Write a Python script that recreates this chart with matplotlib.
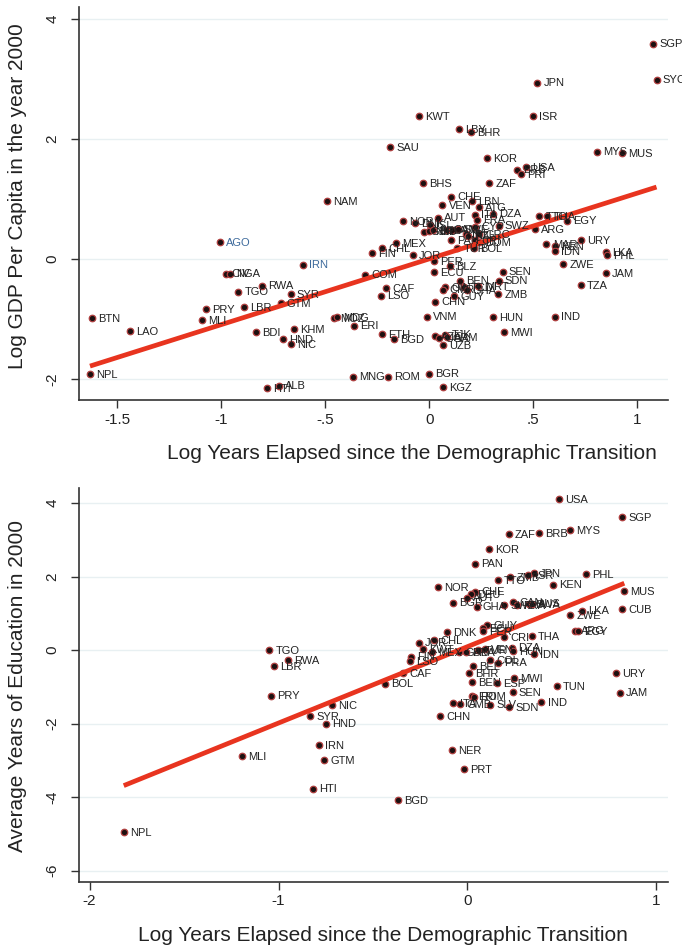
import numpy as np
import matplotlib
matplotlib.use("Agg")
import matplotlib.pyplot as plt

plt.rcParams['font.family'] = ['Liberation Sans', 'DejaVu Sans']

# --- top panel: log GDP per capita vs log years since transition ---
gdp_codes = ["SGP", "SYC", "JPN", "KWT", "ISR", "LBY", "BHR", "SAU", "MYS", "MUS",
             "KOR", "USA", "BRB", "PRI", "BHS", "ZAF", "CHE", "LBN", "VEN", "ATG",
             "AUT", "ITA", "FRA", "DZA", "NOR", "DNK", "ISL", "GBR", "NLD", "BEL",
             "CAN", "AUS", "SWE", "IRL", "NZL", "CYP", "GRC", "SWZ", "ARG", "TTO",
             "THA", "EGY", "URY", "MAR", "KEN", "IDN", "LKA", "PHL", "ZWE", "JAM",
             "TZA", "SEN", "SDN", "ZMB", "MRT", "BEN", "GIN", "CMR", "TCD", "GHA",
             "GUY", "CHN", "ECU", "BLZ", "PER", "PAN", "TUR", "BOL", "CRI", "DOM",
             "JOR", "MEX", "CHL", "FIN", "VNM", "HUN", "IND", "MWI", "ETH", "BGD",
             "AZE", "UGA", "TJK", "ARM", "UZB", "BGR", "KGZ", "ROM", "MNG", "NAM",
             "AGO", "IRN", "CIV", "NGA", "RWA", "TGO", "SYR", "PRY", "LBR", "GTM",
             "BTN", "MLI", "LAO", "BDI", "KHM", "HND", "NIC", "NPL", "ALB", "HTI",
             "MOZ", "MDG", "ERI", "COM", "CAF", "LSO"]
gdp_x = [1.076, 1.092, 0.518, -0.050, 0.499, 0.140, 0.200, -0.190, 0.804, 0.927,
         0.276, 0.464, 0.421, 0.440, -0.033, 0.288, 0.105, 0.204, 0.062, 0.238,
         0.039, 0.219, 0.230, 0.307, -0.129, -0.070, 0.001, -0.025, -0.001, 0.018,
         0.086, 0.111, 0.136, 0.174, 0.184, 0.219, 0.238, 0.333, 0.507, 0.528,
         0.566, 0.663, 0.727, 0.563, 0.602, 0.602, 0.849, 0.852, 0.643, 0.847,
         0.727, 0.352, 0.333, 0.331, 0.236, 0.147, 0.075, 0.067, 0.168, 0.179,
         0.119, 0.026, 0.022, 0.099, 0.022, 0.105, 0.134, 0.214, 0.219, 0.238,
         -0.081, -0.163, -0.227, -0.275, -0.013, 0.307, 0.603, 0.360, -0.227, -0.169,
         0.026, 0.047, 0.075, 0.086, 0.067, -0.002, 0.067, -0.201, -0.366, -0.494,
         -1.007, -0.610, -0.980, -0.959, -0.805, -0.919, -0.667, -1.075, -0.893, -0.715,
         -1.621, -1.092, -1.440, -0.836, -0.650, -0.703, -0.666, -1.632, -0.725, -0.780,
         -0.459, -0.446, -0.363, -0.309, -0.209, -0.233]
gdp_y = [3.59, 2.99, 2.94, 2.38, 2.38, 2.17, 2.12, 1.86, 1.79, 1.77,
         1.68, 1.53, 1.49, 1.42, 1.26, 1.27, 1.04, 0.97, 0.90, 0.86,
         0.69, 0.74, 0.655, 0.755, 0.63, 0.60, 0.57, 0.455, 0.46, 0.48,
         0.49, 0.48, 0.50, 0.41, 0.39, 0.54, 0.42, 0.555, 0.50, 0.71,
         0.71, 0.64, 0.32, 0.25, 0.21, 0.13, 0.12, 0.07, -0.08, -0.23,
         -0.43, -0.21, -0.36, -0.58, -0.45, -0.36, -0.47, -0.51, -0.47, -0.52,
         -0.62, -0.71, -0.22, -0.12, -0.04, 0.31, 0.18, 0.18, 0.32, 0.28,
         0.06, 0.27, 0.18, 0.10, -0.96, -0.97, -0.96, -1.22, -1.25, -1.33,
         -1.29, -1.32, -1.26, -1.30, -1.44, -1.91, -2.14, -1.96, -1.96, 0.97,
         0.28, -0.095, -0.245, -0.245, -0.445, -0.545, -0.59, -0.83, -0.80, -0.73,
         -0.99, -1.02, -1.20, -1.22, -1.17, -1.33, -1.42, -1.92, -2.11, -2.15,
         -0.98, -0.97, -1.11, -0.26, -0.48, -0.61]

# fitted line (slope, intercept)
gdp_fit = (1.0955, 0.003)

# --- bottom panel: average years of education ---
edu_codes = ["USA", "SGP", "ZAF", "BRB", "MYS", "KOR", "PAN", "PHL", "JPN", "ISR",
             "ZMB", "TTO", "KEN", "NOR", "CHE", "DEU", "AUT", "BGR", "GHA", "SWZ",
             "CAN", "FRA", "BWA", "AUS", "MUS", "CUB", "LKA", "ZWE", "ARG", "EGY",
             "GUY", "ECU", "PER", "CRI", "THA", "DNK", "CHL", "JOR", "KWT", "MEX",
             "FIN", "LSO", "VEN", "TUR", "BRA", "GAB", "DZA", "HUN", "IDN", "BEL",
             "COL", "PRA", "CAF", "BOL", "BHR", "BEN", "ESP", "MWI", "TUN", "URY",
             "JAM", "SEN", "IND", "SDN", "SLV", "ERI", "ROM", "ITA", "GMB", "CHN",
             "NER", "PRT", "BGD", "PRY", "NIC", "SYR", "HND", "IRN", "MLI", "GTM",
             "HTI", "NPL", "TGO", "RWA", "LBR"]
edu_x = [0.482, 0.817, 0.218, 0.378, 0.544, 0.114, 0.041, 0.625, 0.352, 0.322,
         0.225, 0.161, 0.454, -0.154, 0.038, 0.019, -0.004, -0.077, 0.049, 0.193,
         0.242, 0.260, 0.327, 0.341, 0.830, 0.817, 0.604, 0.542, 0.569, 0.586,
         0.103, 0.080, 0.080, 0.193, 0.341, -0.108, -0.177, -0.258, -0.234, -0.190,
         -0.299, -0.304, 0.091, 0.057, -0.008, -0.043, 0.234, 0.242, 0.352, 0.027,
         0.119, 0.163, -0.340, -0.437, 0.008, 0.022, 0.154, 0.246, 0.472, 0.786,
         0.805, 0.239, 0.391, 0.221, 0.119, 0.022, 0.034, -0.075, -0.040, -0.144,
         -0.080, -0.019, -0.366, -1.041, -0.717, -0.833, -0.750, -0.787, -1.195, -0.759,
         -0.816, -1.819, -1.049, -0.950, -1.025]
edu_y = [4.10, 3.61, 3.15, 3.19, 3.27, 2.75, 2.35, 2.07, 2.10, 2.04,
         1.98, 1.90, 1.78, 1.71, 1.59, 1.52, 1.43, 1.29, 1.18, 1.22,
         1.31, 1.23, 1.25, 1.26, 1.61, 1.12, 1.07, 0.96, 0.525, 0.51,
         0.68, 0.59, 0.51, 0.36, 0.38, 0.48, 0.27, 0.20, 0.02, -0.06,
         -0.18, -0.30, 0.02, 0.00, -0.06, -0.05, 0.07, -0.02, -0.11, -0.43,
         -0.27, -0.34, -0.63, -0.91, -0.62, -0.88, -0.89, -0.77, -0.98, -0.63,
         -1.16, -1.15, -1.42, -1.55, -1.48, -1.25, -1.27, -1.44, -1.47, -1.79,
         -2.73, -3.23, -4.09, -1.24, -1.49, -1.79, -2.00, -2.59, -2.88, -3.00,
         -3.77, -4.96, 0.00, -0.27, -0.435]

edu_fit = (2.078, 0.094)

BLUE_LABELS = {"AGO", "IRN"}
LINE_RED = "#e8341f"


def style_axis(ax):
    for s in ["top", "right"]:
        ax.spines[s].set_visible(False)
    for s in ["left", "bottom"]:
        ax.spines[s].set_color("#333333")
        ax.spines[s].set_linewidth(1.2)
    ax.tick_params(direction="out", length=6, width=1, color="#333333",
                   labelsize=11, labelcolor="#222222")
    ax.tick_params(axis="x", pad=3)
    ax.tick_params(axis="y", pad=8)
    for lab in ax.get_yticklabels():
        lab.set_rotation(90)
        lab.set_va("center")
    ax.grid(axis="y", color="#e8f0f2", linewidth=1)
    ax.set_axisbelow(True)


def scatter_panel(ax, codes, xs, ys, fit, blue_top=False):
    xs = np.array(xs)
    ys = np.array(ys)
    ax.scatter(xs, ys, s=22, facecolor="#1c1010", edgecolor="#b04040",
               linewidths=0.9, zorder=2)
    # fit line over the data range
    x0, x1 = xs.min(), xs.max()
    ax.plot([x0, x1], [fit[0] * x0 + fit[1], fit[0] * x1 + fit[1]],
            color=LINE_RED, linewidth=3.4, solid_capstyle="butt", zorder=3)
    for c, x, y in zip(codes, xs, ys):
        col = "#3d6a9c" if (blue_top and c in BLUE_LABELS) else "#222222"
        ax.annotate(c, (x, y), xytext=(4.5, -0.5), textcoords="offset points",
                    fontsize=8, color=col, va="center", ha="left", zorder=4,
                    annotation_clip=False)


fig = plt.figure(figsize=(6.82, 9.49), dpi=100)

# top
ax1 = fig.add_axes([0.1158, 0.5785, 0.8636, 0.4141])
scatter_panel(ax1, gdp_codes, gdp_x, gdp_y, gdp_fit, blue_top=True)
ax1.set_xlim(-1.685, 1.147)
ax1.set_ylim(-2.35, 4.2)
ax1.set_xticks([-1.5, -1, -0.5, 0, 0.5, 1])
ax1.set_xticklabels(["-1.5", "-1", "-.5", "0", ".5", "1"])
ax1.set_yticks([-2, 0, 2, 4])
ax1.set_yticklabels(["-2", "0", "2", "4"])
style_axis(ax1)
ax1.set_xlabel("Log Years Elapsed since the Demographic Transition", fontsize=15, color="#222222")
ax1.set_ylabel("Log GDP Per Capita in the year 2000", fontsize=15, color="#222222")
ax1.xaxis.set_label_coords(0.565, -0.112)
ax1.yaxis.set_label_coords(-0.088, 0.52)

# bottom
ax2 = fig.add_axes([0.1158, 0.0709, 0.8636, 0.4149])
scatter_panel(ax2, edu_codes, edu_x, edu_y, edu_fit)
ax2.set_xlim(-2.056, 1.061)
ax2.set_ylim(-6.30, 4.41)
ax2.set_xticks([-2, -1, 0, 1])
ax2.set_xticklabels(["-2", "-1", "0", "1"])
ax2.set_yticks([-6, -4, -2, 0, 2, 4])
ax2.set_yticklabels(["-6", "-4", "-2", "0", "2", "4"])
style_axis(ax2)
ax2.set_xlabel("Log Years Elapsed since the Demographic Transition", fontsize=15, color="#222222")
ax2.set_ylabel("Average Years of Education in 2000", fontsize=15, color="#222222")
ax2.xaxis.set_label_coords(0.516, -0.112)
ax2.yaxis.set_label_coords(-0.088, 0.497)

fig.savefig("out.png", dpi=100)
